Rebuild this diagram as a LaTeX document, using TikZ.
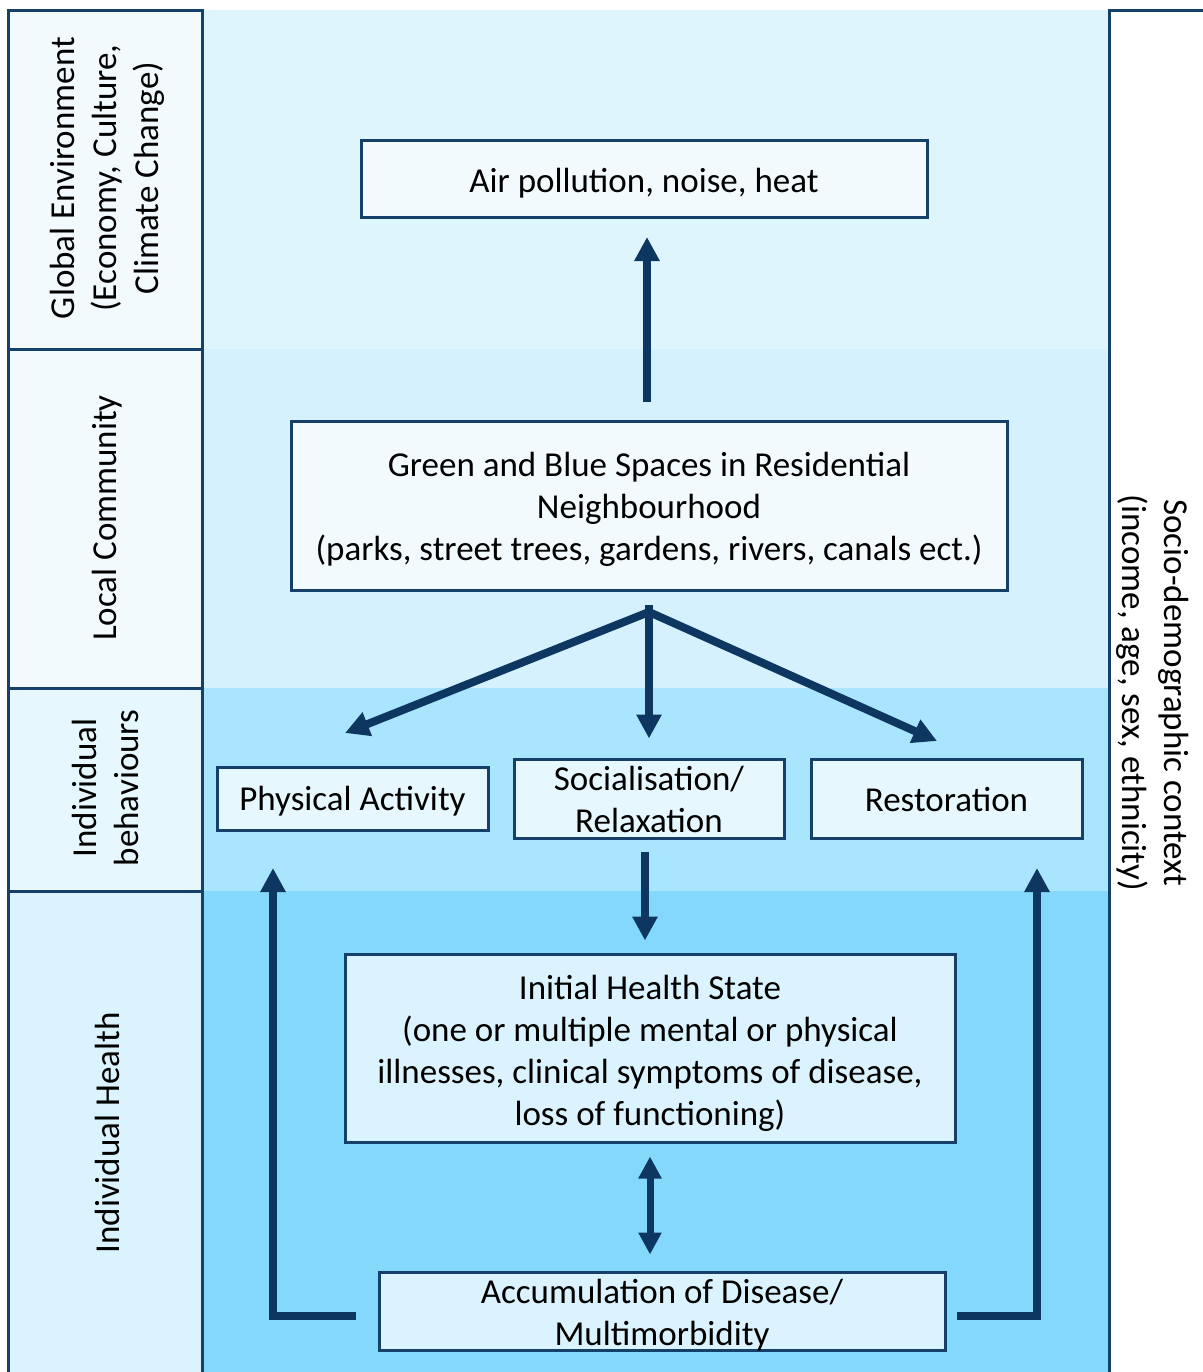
\documentclass[tikz,border=0pt]{standalone}
\usepackage{fontspec}
\setmainfont{Carlito}
\usetikzlibrary{arrows.meta,calc}
\definecolor{navy}{HTML}{0D3761}
\definecolor{edge}{HTML}{15406A}
\definecolor{bandA}{HTML}{DFF5FE}
\definecolor{bandB}{HTML}{D4F1FD}
\definecolor{bandC}{HTML}{A9E5FC}
\definecolor{bandD}{HTML}{83D8FC}
\definecolor{cellA}{HTML}{F3FAFE}
\definecolor{cellC}{HTML}{E6F7FE}
\definecolor{cellD}{HTML}{DAF3FE}
\begin{document}
\begin{tikzpicture}[x=0.5pt,y=-0.5pt,
  txt/.style={font=\fontsize{17.5}{21}\selectfont, align=center, inner sep=0pt},
  box/.style={draw=edge, line width=1.5pt, inner sep=0pt},
  cell/.style={draw=edge, line width=1.5pt},
  arr/.style={draw=navy, line width=4pt, -{Triangle[width=12pt,length=12pt]}},
  darr/.style={draw=navy, line width=3.5pt, {Triangle[width=11pt,length=11pt]}-{Triangle[width=11pt,length=11pt]}},
  loop/.style={arr, line join=miter}]
\useasboundingbox (0,0) rectangle (1203,1372);
\fill[white] (0,0) rectangle (1203,1372);

% background bands
\fill[bandA] (202,10) rectangle (1109,349);
\fill[bandB] (202,349) rectangle (1109,688);
\fill[bandC] (202,688) rectangle (1109,891);
\fill[bandD] (202,891) rectangle (1109,1372);

% left level column
\filldraw[cell, fill=cellA] (8,10) rectangle (202,349);
\filldraw[cell, fill=cellA] (8,349) rectangle (202,688);
\filldraw[cell, fill=cellC] (8,688) rectangle (202,891);
\filldraw[cell, fill=cellD] (8,891) rectangle (202,1380);

\node[txt, rotate=90] (lvl1) at (107,178) {Global Environment\\(Economy, Culture,\\Climate Change)};
\node[txt, rotate=90] (lvl2) at (107,518) {Local Community};
\node[txt, rotate=90] (lvl3) at (105,788) {Individual\\behaviours};
\node[txt, rotate=90] (lvl4) at (107,1133) {Individual Health};

% right context panel
\draw[cell] (1109,1380) -- (1109,10) -- (1210,10);
\node[txt, rotate=-90] (ctx) at (1153,693)
  {Socio-demographic context\\(income, age, sex, ethnicity)};

% boxes (sizes in pt: half of the drawing units)
\node[box, fill=cellA, minimum width=283pt, minimum height=38.5pt] (air) at (644,179) {};
\node[box, fill=cellA, minimum width=358pt, minimum height=84.5pt] (green) at (649,506) {};
\node[box, fill=cellC, minimum width=135.5pt, minimum height=31.5pt] (phys) at (352.5,798.5) {};
\node[box, fill=cellC, minimum width=135pt, minimum height=39.5pt] (soc) at (649,798.5) {};
\node[box, fill=cellC, minimum width=135.5pt, minimum height=39.5pt] (rest) at (946.5,798.5) {};
\node[box, fill=cellD, minimum width=305pt, minimum height=94pt] (init) at (650,1048) {};
\node[box, fill=cellD, minimum width=283pt, minimum height=39pt] (acc) at (662,1311) {};

% box texts
\node[txt] (air-t) at ($(air)+(0,4)$) {Air pollution, noise, heat};
\node[txt] (green-t) at ($(green)+(0,3)$)
  {Green and Blue Spaces in Residential\\Neighbourhood\\(parks, street trees, gardens, rivers, canals ect.)};
\node[txt] (phys-t) at ($(phys)+(0,3)$) {Physical Activity};
\node[txt] (soc-t) at ($(soc)+(0,1)$) {Socialisation/\\Relaxation};
\node[txt] (rest-t) at ($(rest)+(0,1)$) {Restoration};
\node[txt] (init-t) at ($(init)+(0,5)$)
  {Initial Health State\\(one or multiple mental or physical\\illnesses, clinical symptoms of disease,\\loss of functioning)};
\node[txt] (acc-t) at ($(acc)+(0,4)$) {Accumulation of Disease/\\Multimorbidity};

% connector ends
\coordinate (fork) at (649,612);
\coordinate (physin) at (345,733);
\coordinate (restin) at (937,741);
\coordinate (physup) at (273,868);
\coordinate (restup) at (1037,868);
\coordinate (socout) at ($(soc.south)+(-4,0)$);
\coordinate (greenout) at ($(green.north)+(-2,0)$);

% connectors
\draw[arr, shorten <=9pt, shorten >=9pt] (greenout) -- (greenout |- air.south);
\draw[arr, shorten <=6.5pt, shorten >=9.5pt] (green.south) -- (soc.north);
\draw[arr] (fork) -- (physin);
\draw[arr] (fork) -- (restin);
\draw[arr, shorten <=6pt, shorten >=6pt] (socout) -- (socout |- init.north);
\draw[darr, shorten <=6.5pt, shorten >=8pt] (init.south) -- (init.south |- acc.north);
\draw[loop] ($(acc.west)+(-22,5)$) -| (physup);
\draw[loop] ($(acc.east)+(10,5)$) -| (restup);
\end{tikzpicture}
\end{document}
